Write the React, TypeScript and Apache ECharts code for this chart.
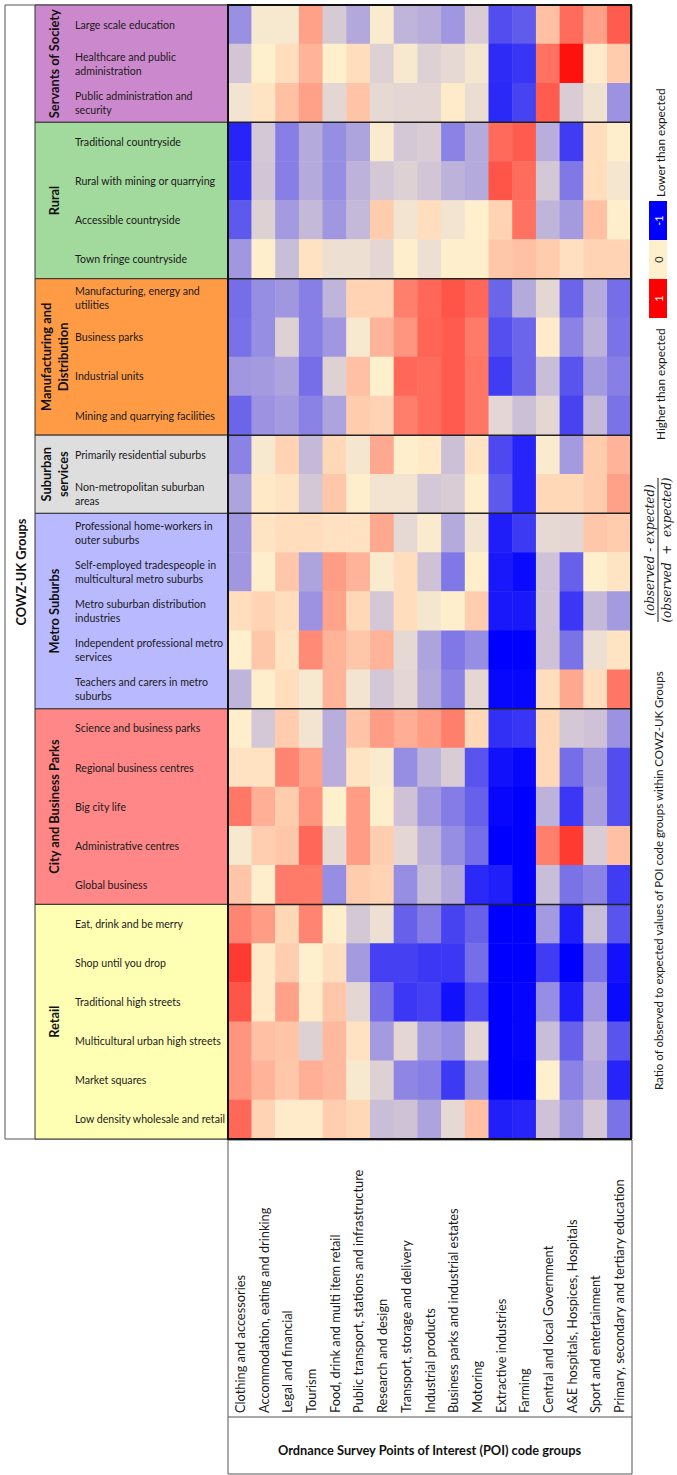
import React, { useEffect, useRef } from 'react';
import * as echarts from 'echarts';

const FONT = 'Lato, "Open Sans", sans-serif';

const poiGroups = [
  'Clothing and accessories',
  'Accommodation, eating and drinking',
  'Legal and financial',
  'Tourism',
  'Food, drink and multi item retail',
  'Public transport, stations and infrastructure',
  'Research and design',
  'Transport, storage and delivery',
  'Industrial products',
  'Business parks and industrial estates',
  'Motoring',
  'Extractive industries',
  'Farming',
  'Central and local Government',
  'A&E hospitals, Hospices, Hospitals',
  'Sport and entertainment',
  'Primary, secondary and tertiary education',
];

const supergroupNames = [
  'Servants of Society',
  'Rural',
  'Manufacturing and\nDistribution',
  'Suburban\nservices',
  'Metro Suburbs',
  'City and Business Parks',
  'Retail',
];
const supergroupColors = ['#CC88CC', '#A2D99C', '#FF9B45', '#DEDEDE', '#B9B9FF', '#FF8787', '#FFFFB3'];

const servantsGroups = ['Large scale education', 'Healthcare and public\nadministration', 'Public administration and\nsecurity'];
const ruralGroups = ['Traditional countryside', 'Rural with mining or quarrying', 'Accessible countryside', 'Town fringe countryside'];
const manufacturingGroups = ['Manufacturing, energy and\nutilities', 'Business parks', 'Industrial units', 'Mining and quarrying facilities'];
const suburbanGroups = ['Primarily residential suburbs', 'Non-metropolitan suburban\nareas'];
const metroGroups = [
  'Professional home-workers in\nouter suburbs',
  'Self-employed tradespeople in\nmulticultural metro suburbs',
  'Metro suburban distribution\nindustries',
  'Independent professional metro\nservices',
  'Teachers and carers in metro\nsuburbs',
];
const cityGroups = ['Science and business parks', 'Regional business centres', 'Big city life', 'Administrative centres', 'Global business'];
const retailGroups = [
  'Eat, drink and be merry',
  'Shop until you drop',
  'Traditional high streets',
  'Multicultural urban high streets',
  'Market squares',
  'Low density wholesale and retail',
];

const servantsValues = [
  [-0.4, -0.03, -0.03, 0.33, -0.16, -0.3, -0.02, -0.25, -0.28, -0.37, -0.15, -0.68, -0.62, 0.2, 0.55, 0.33, 0.62],
  [-0.18, 0, 0.08, 0.25, 0, 0.08, -0.13, -0.03, -0.13, -0.1, -0.04, -0.82, -0.78, 0.53, 0.93, 0.02, 0.15],
  [-0.05, 0.05, 0.2, 0.33, -0.11, 0.18, -0.1, -0.11, -0.11, 0.02, -0.08, -0.83, -0.72, 0.62, -0.15, -0.06, -0.39],
];
const ruralValues = [
  [-0.85, -0.17, -0.47, -0.29, -0.41, -0.32, -0.02, -0.17, -0.15, -0.46, -0.29, 0.56, 0.62, -0.28, -0.75, 0.08, 0.01],
  [-0.8, -0.18, -0.47, -0.29, -0.41, -0.26, -0.17, -0.13, -0.18, -0.26, -0.29, 0.65, 0.55, -0.17, -0.5, 0.08, -0.04],
  [-0.63, -0.13, -0.36, -0.23, -0.37, -0.23, 0.15, -0.05, 0.08, -0.05, 0, 0.12, 0.53, -0.25, -0.36, 0.2, 0.01],
  [-0.37, 0.01, -0.21, 0.06, -0.07, -0.07, -0.11, 0.01, -0.07, 0.01, 0.01, 0.17, 0.2, 0.15, 0.07, 0.12, 0.12],
];
const manufacturingValues = [
  [-0.54, -0.41, -0.37, -0.47, -0.25, 0.12, 0.12, 0.47, 0.57, 0.65, 0.57, -0.58, -0.29, -0.11, -0.58, -0.29, -0.54],
  [-0.53, -0.41, -0.13, -0.47, -0.37, -0.03, 0.25, 0.38, 0.58, 0.62, 0.49, -0.67, -0.58, 0.02, -0.46, -0.26, -0.52],
  [-0.37, -0.36, -0.32, -0.54, -0.13, 0.2, 0, 0.57, 0.55, 0.62, 0.51, -0.75, -0.58, -0.21, -0.65, -0.36, -0.47],
  [-0.58, -0.39, -0.36, -0.46, -0.32, 0.15, 0.12, 0.48, 0.55, 0.62, 0.51, -0.11, -0.2, -0.11, -0.72, -0.23, -0.52],
];
const suburbanValues = [
  [-0.46, -0.03, 0.12, -0.23, 0.1, -0.04, 0.3, 0.01, 0.03, -0.2, 0.05, -0.7, -0.85, -0.02, -0.36, 0.15, 0.25],
  [-0.32, 0.03, 0.05, -0.17, 0.17, 0.01, -0.05, -0.05, -0.17, -0.15, 0.01, -0.63, -0.85, 0.1, 0.1, 0.15, 0.33],
];
const metroValues = [
  [-0.37, 0.05, 0.08, 0.08, 0.06, 0.06, 0.3, -0.1, -0.02, -0.29, -0.05, -0.88, -0.76, -0.1, -0.11, 0.17, 0.15],
  [-0.37, 0.01, 0.17, -0.32, 0.35, 0.25, -0.02, 0.08, -0.19, -0.5, 0.01, -0.9, -0.96, -0.19, -0.6, 0, 0.05],
  [0.08, 0.12, 0.08, -0.39, 0.32, 0.1, -0.17, 0.08, -0.04, 0.01, 0.14, -0.9, -0.9, -0.19, -0.77, -0.23, -0.36],
  [0, 0.17, 0.05, 0.42, 0.25, 0.17, 0.25, -0.1, -0.32, -0.5, -0.41, -1, -1, -0.19, -0.52, -0.07, 0.05],
  [-0.25, 0.01, 0.08, -0.03, 0.25, -0.05, -0.17, -0.11, -0.3, -0.46, -0.11, -0.97, -0.97, 0.08, 0.3, 0.08, 0.51],
];
const cityValues = [
  [0.01, -0.17, 0.15, -0.05, -0.28, 0.18, 0.35, 0.28, 0.35, 0.47, 0.1, -0.8, -0.78, 0.1, -0.17, -0.19, -0.39],
  [0.06, 0.06, 0.45, 0.32, -0.28, 0.05, -0.02, -0.41, -0.25, -0.15, -0.65, -0.93, -0.97, 0.1, -0.54, -0.37, -0.68],
  [0.5, 0.27, 0.15, 0.38, 0, 0.35, 0.01, -0.19, -0.37, -0.48, -0.6, -0.97, -1, -0.26, -0.77, -0.34, -0.68],
  [-0.03, 0.14, 0.17, 0.57, -0.09, 0.35, 0.14, -0.11, -0.26, -0.41, -0.54, -1, -1, 0.47, 0.76, -0.15, 0.2],
  [0.18, 0.01, 0.49, 0.49, -0.41, 0.15, 0.12, -0.41, -0.21, -0.3, -0.83, -0.87, -1, -0.21, -0.52, -0.46, -0.75],
];
const retailValues = [
  [0.45, 0.35, 0.1, 0.45, 0.01, -0.17, -0.07, -0.6, -0.48, -0.72, -0.6, -1, -1, -0.36, -0.87, -0.21, -0.65],
  [0.76, 0.03, 0.14, 0, 0.07, -0.36, -0.73, -0.73, -0.77, -0.77, -0.54, -1, -1, -0.75, -1, -0.52, -0.93],
  [0.65, 0.03, 0.33, 0.02, 0.17, -0.11, -0.54, -0.77, -0.73, -0.93, -0.7, -1, -0.98, -0.41, -0.88, -0.37, -0.96],
  [0.38, 0.2, 0.18, -0.13, 0.23, 0.06, -0.36, -0.11, -0.36, -0.41, -0.11, -1, -0.98, -0.21, -0.6, -0.26, -0.65],
  [0.38, 0.25, 0.17, 0.27, 0.23, -0.03, -0.13, -0.44, -0.47, -0.76, -0.41, -1, -1, 0, -0.46, -0.3, -0.85],
  [0.57, 0.12, 0.02, 0.02, 0.14, 0.1, -0.21, -0.19, -0.32, -0.1, 0.2, -0.87, -0.85, -0.19, -0.36, -0.17, -0.52],
];

const legendTicks = ['-1', '0', '1'];

const groupLists = [servantsGroups, ruralGroups, manufacturingGroups, suburbanGroups, metroGroups, cityGroups, retailGroups];
const valueLists = [servantsValues, ruralValues, manufacturingValues, suburbanValues, metroValues, cityValues, retailValues];

export default function App() {
  const ref = useRef<HTMLDivElement>(null);
  useEffect(() => {
    const chart = echarts.init(ref.current!, undefined, { renderer: 'svg' });
    const cowzGroups: string[] = ([] as string[]).concat(...groupLists);
    const rows: number[][] = ([] as number[][]).concat(...valueLists);
    const data: number[][] = [];
    rows.forEach((row, y) => row.forEach((v, x) => data.push([x, y, v])));

    chart.setOption({
      animation: false,
      grid: { left: 228, top: 5, width: 403, height: 1134 },
      xAxis: {
        type: 'category',
        data: poiGroups,
        position: 'bottom',
        z: 10,
        axisLine: { show: false },
        axisTick: { show: false },
        splitLine: { show: false },
        axisLabel: {
          interval: 0,
          rotate: 90,
          align: 'left',
          verticalAlign: 'middle',
          margin: 274,
          fontSize: 12.8,
          fontFamily: FONT,
          color: '#1a1a1a',
        },
      },
      yAxis: {
        type: 'category',
        data: cowzGroups,
        inverse: true,
        z: 10,
        axisLine: { show: false },
        axisTick: { show: false },
        splitLine: { show: false },
        axisLabel: {
          interval: 0,
          align: 'left',
          margin: 153,
          fontSize: 10.6,
          lineHeight: 14,
          fontFamily: FONT,
          color: '#1a1a1a',
        },
      },
      visualMap: {
        type: 'continuous',
        show: false,
        min: -1,
        max: 1,
        dimension: 2,
        inRange: { color: ['#0000FF', '#FFF0CD', '#FF0000'] },
      },
      series: [
        {
          type: 'heatmap',
          data,
          itemStyle: { borderWidth: 0 },
          emphasis: { disabled: true },
        },
      ],
    });

    const p0 = chart.convertToPixel({ xAxisIndex: 0, yAxisIndex: 0 }, [0, 0]) as number[];
    const p1 = chart.convertToPixel({ xAxisIndex: 0, yAxisIndex: 0 }, [1, 1]) as number[];
    const cw = p1[0] - p0[0];
    const ch = p1[1] - p0[1];
    const left = p0[0] - cw / 2;
    const top = p0[1] - ch / 2;
    const right = left + cw * poiGroups.length;
    const bottom = top + ch * cowzGroups.length;

    const els: any[] = [];
    els.push({
      type: 'rect',
      z: 0,
      shape: { x: 5, y: top, width: right + 1 - 5, height: bottom - top },
      style: { fill: '#fff', stroke: '#555', lineWidth: 1 },
    });
    let start = 0;
    groupLists.forEach((g, i) => {
      const y0 = top + start * ch;
      const y1 = top + (start + g.length) * ch;
      els.push({
        type: 'rect',
        z: 1,
        shape: { x: 35, y: y0, width: left - 35, height: y1 - y0 },
        style: { fill: supergroupColors[i], stroke: '#333', lineWidth: 1 },
      });
      els.push({
        type: 'text',
        z: 12,
        x: 54,
        y: (y0 + y1) / 2,
        rotation: Math.PI / 2,
        style: {
          text: supergroupNames[i],
          fontSize: 12.8,
          fontWeight: 'bold',
          fontFamily: FONT,
          fill: '#111',
          align: 'center',
          verticalAlign: 'middle',
          lineHeight: 17,
        },
      });
      if (start + g.length < cowzGroups.length) {
        els.push({
          type: 'line',
          z: 12,
          shape: { x1: left, y1: y1, x2: right, y2: y1 },
          style: { stroke: '#222', lineWidth: 1.5 },
        });
      }
      start += g.length;
    });
    els.push({
      type: 'rect',
      z: 13,
      shape: { x: left, y: top, width: right - left, height: bottom - top },
      style: { fill: 'none', stroke: '#111', lineWidth: 2 },
    });
    els.push({
      type: 'text',
      z: 12,
      x: 21,
      y: (top + bottom) / 2,
      rotation: Math.PI / 2,
      style: {
        text: 'COWZ-UK Groups',
        fontSize: 12.8,
        fontWeight: 'bold',
        fontFamily: FONT,
        fill: '#111',
        align: 'center',
        verticalAlign: 'middle',
      },
    });
    // bottom box
    els.push({
      type: 'rect',
      z: 0,
      shape: { x: left, y: bottom + 1, width: right + 1 - left, height: 1474 - bottom - 1 },
      style: { fill: 'none', stroke: '#555', lineWidth: 1 },
    });
    els.push({
      type: 'line',
      z: 0,
      shape: { x1: left, y1: 1417, x2: right + 1, y2: 1417 },
      style: { stroke: '#555', lineWidth: 1 },
    });
    els.push({
      type: 'text',
      z: 12,
      x: (left + right) / 2,
      y: 1450,
      style: {
        text: 'Ordnance Survey Points of Interest (POI) code groups',
        fontSize: 12.8,
        fontWeight: 'bold',
        fontFamily: FONT,
        fill: '#111',
        align: 'center',
        verticalAlign: 'middle',
      },
    });
    // legend
    const legendColors = ['#0000FF', '#FFF0CD', '#FF0000'];
    const legendText = ['#fff', '#333', '#fff'];
    legendTicks.forEach((t, i) => {
      els.push({
        type: 'rect',
        z: 5,
        shape: { x: 649, y: 201 + i * 39, width: 18, height: 39 },
        style: { fill: legendColors[i] },
      });
      els.push({
        type: 'text',
        z: 6,
        x: 658,
        y: 201 + i * 39 + 19.5,
        rotation: Math.PI / 2,
        style: { text: t, fontSize: 11, fontFamily: FONT, fill: legendText[i], align: 'center', verticalAlign: 'middle' },
      });
    });
    els.push({
      type: 'text',
      z: 6,
      x: 660,
      y: 197,
      rotation: Math.PI / 2,
      style: { text: 'Lower than expected', fontSize: 11.8, fontFamily: FONT, fill: '#1a1a1a', align: 'left', verticalAlign: 'middle' },
    });
    els.push({
      type: 'text',
      z: 6,
      x: 660,
      y: 440,
      rotation: Math.PI / 2,
      style: { text: 'Higher than expected', fontSize: 11.8, fontFamily: FONT, fill: '#1a1a1a', align: 'left', verticalAlign: 'middle' },
    });
    els.push({
      type: 'text',
      z: 6,
      x: 658,
      y: 1090,
      rotation: Math.PI / 2,
      style: {
        text: 'Ratio of observed to expected values of POI code groups within COWZ-UK Groups',
        fontSize: 11.5,
        fontFamily: FONT,
        fill: '#1a1a1a',
        align: 'left',
        verticalAlign: 'middle',
      },
    });
    els.push({
      type: 'group',
      x: 658,
      y: 550,
      rotation: Math.PI / 2,
      children: [
        {
          type: 'text',
          x: 0,
          y: -8,
          style: {
            text: '(observed - expected)',
            fontSize: 12,
            fontStyle: 'italic',
            fontFamily: '"DejaVu Serif", serif',
            fill: '#1a1a1a',
            align: 'center',
            verticalAlign: 'middle',
          },
        },
        {
          type: 'line',
          shape: { x1: -72, y1: 0, x2: 72, y2: 0 },
          style: { stroke: '#1a1a1a', lineWidth: 1 },
        },
        {
          type: 'text',
          x: 0,
          y: 9,
          style: {
            text: '(observed  +  expected)',
            fontSize: 12,
            fontStyle: 'italic',
            fontFamily: '"DejaVu Serif", serif',
            fill: '#1a1a1a',
            align: 'center',
            verticalAlign: 'middle',
          },
        },
      ],
    });

    chart.setOption({ graphic: els });
    return () => chart.dispose();
  }, []);
  return (
    <div
      ref={ref}
      style={{ position: 'absolute', left: 0, top: 0, width: 677, height: 1475, background: '#fff' }}
    />
  );
}
